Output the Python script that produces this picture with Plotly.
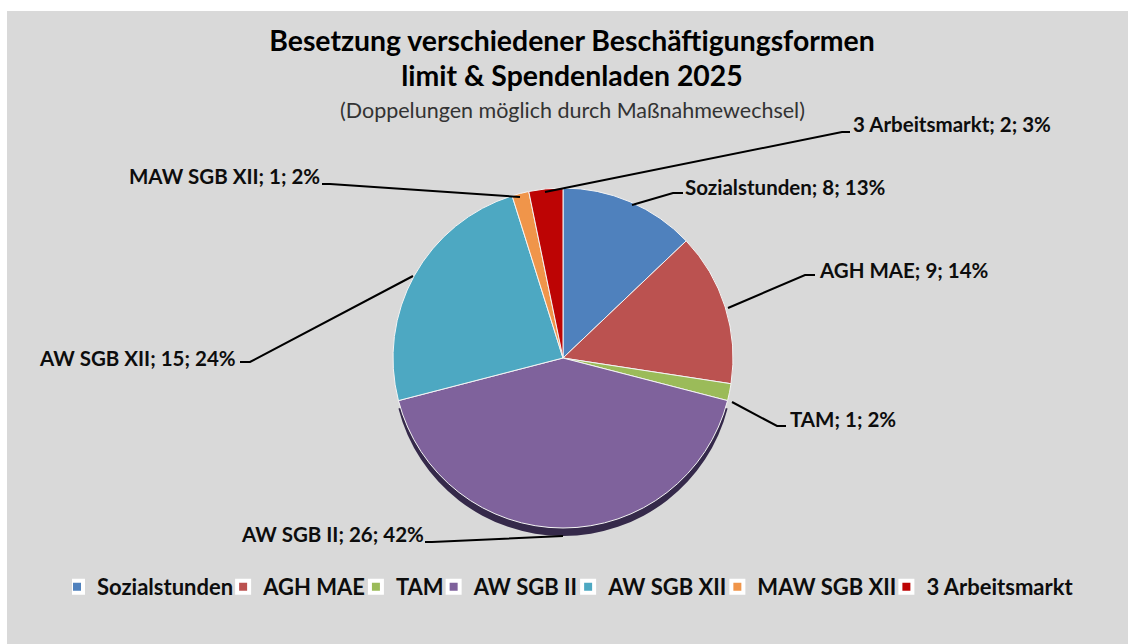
import plotly.graph_objects as go

W, H = 1128, 644

# Data
categories = ["Sozialstunden", "AGH MAE", "TAM", "AW SGB II", "AW SGB XII", "MAW SGB XII", "3 Arbeitsmarkt"]
values = [8, 9, 1, 26, 15, 1, 2]
percents = [13, 14, 2, 42, 24, 2, 3]
colors = ["#4F81BD", "#BB5250", "#9BBB59", "#7F629C", "#4DA8C2", "#F0954A", "#BD0404"]
rim_colors = ["rgba(0,0,0,0)", "rgba(0,0,0,0)", "rgba(0,0,0,0)", "#35294A", "rgba(0,0,0,0)", "rgba(0,0,0,0)", "rgba(0,0,0,0)"]

# Layout (pixels)
BG = "#D9D9D9"
FONT = "Lato"
CX, CY, R = 563, 358, 170
RIM = 8
label_pos = [(683, 187, "left"), (817, 270, "left"), (788, 419, "left"), (426, 534, "right"),
             (238, 358, "right"), (322, 176, "right"), (851, 124, "left")]
leaders = [
    [(632, 205), (673, 193), (683, 193)],
    [(728, 308), (805, 275), (815, 275)],
    [(732, 402), (777, 426), (786, 426)],
    [(563, 536), (432, 542), (425, 542)],
    [(413, 276), (250, 362), (240, 362)],
    [(520, 197), (330, 184), (322, 184)],
    [(545, 192), (842, 132), (850, 132)],
]


def px(x):
    return x / W


def py(y):
    return 1 - y / H


def domain(cy, r=R):
    return dict(x=[px(CX - r), px(CX + r)], y=[py(cy + r), py(cy - r)])


fig = go.Figure()
# Dark rim under the pie, giving the tilted-disc edge
fig.add_trace(go.Pie(
    labels=categories, values=values, sort=False, direction="clockwise", rotation=0,
    domain=domain(CY + RIM), textinfo="none", hoverinfo="skip", showlegend=False,
    marker=dict(colors=rim_colors, line=dict(width=0)),
))
# Smaller copy hidden under the main pie: supplies legend swatches with a white frame
fig.add_trace(go.Pie(
    labels=categories, values=values, sort=False, direction="clockwise", rotation=0,
    domain=domain(CY, 100), textinfo="none", hoverinfo="skip", showlegend=True,
    marker=dict(colors=colors, line=dict(color="white", width=4)),
))
fig.add_trace(go.Pie(
    labels=categories, values=values, sort=False, direction="clockwise", rotation=0,
    domain=domain(CY), textinfo="none", showlegend=False,
    marker=dict(colors=colors, line=dict(color="#F4F4F4", width=1)),
))

shapes = [dict(type="rect", xref="paper", yref="paper", layer="below",
               x0=px(7), x1=1, y0=0, y1=py(11), fillcolor=BG, line=dict(width=0))]
for pts in leaders:
    path = "M" + " L".join(f"{px(x):.5f},{py(y):.5f}" for x, y in pts)
    shapes.append(dict(type="path", xref="paper", yref="paper", path=path,
                       line=dict(color="black", width=2), layer="above"))

annotations = []
for cat, val, pct, (x, y, anchor) in zip(categories, values, percents, label_pos):
    annotations.append(dict(
        text=f"<b>{cat}; {val}; {pct}%</b>", xref="paper", yref="paper",
        x=px(x), y=py(y), xanchor=anchor, yanchor="middle", showarrow=False,
        font=dict(family=FONT, size=20.5, color="#0D0D0D"),
    ))
annotations.append(dict(
    text="(Doppelungen möglich durch Maßnahmewechsel)", xref="paper", yref="paper",
    x=px(572), y=py(110), xanchor="center", yanchor="middle", showarrow=False,
    font=dict(family=FONT, size=21.5, color="#333333"),
))

fig.update_layout(
    width=W, height=H, margin=dict(l=0, r=0, t=0, b=0), autosize=False,
    paper_bgcolor="white", plot_bgcolor=BG, font=dict(family=FONT),
    title=dict(
        text="<span style='font-size:28.4px'><b>Besetzung verschiedener Beschäftigungsformen</b></span><br>"
             "<span style='font-size:28.4px'><b>limit &amp; Spendenladen 2025</b></span>",
        x=px(572), xanchor="center", y=py(51), yanchor="top",
        font=dict(family=FONT, size=27, color="black"),
    ),
    legend=dict(
        orientation="h", x=px(72), xanchor="left", y=py(566), yanchor="top",
        font=dict(family=FONT, size=22, color="#0D0D0D", weight="bold"),
        bgcolor="rgba(0,0,0,0)", itemwidth=30, indentation=-15,
        traceorder="normal",
    ),
    shapes=shapes, annotations=annotations,
)
fig.write_html("out.html", post_script="document.body.style.margin='0';",
               config=dict(displayModeBar=False))
